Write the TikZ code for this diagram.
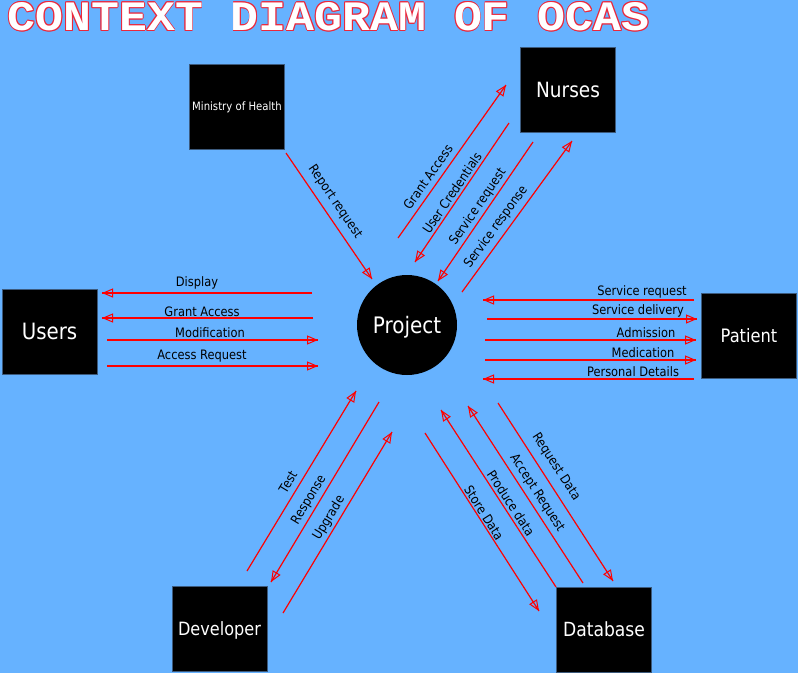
\documentclass[tikz,border=0pt]{standalone}
\usepackage{fontspec}
\setmainfont{DejaVu Sans}[FakeStretch=0.88]
\newfontfamily\titlefont{Liberation Mono}
\usetikzlibrary{arrows.meta,decorations.markings}
\definecolor{bgblue}{HTML}{66B2FF}
\definecolor{boxedge}{RGB}{60,90,125}
\definecolor{outl}{RGB}{235,40,60}
\newcommand\outlinedtitle[1]{\leavevmode
  \rlap{\color{outl}\kern0.8pt #1}\rlap{\color{outl}\kern-0.8pt #1}%
  \rlap{\color{outl}\raisebox{0.8pt}{#1}}\rlap{\color{outl}\raisebox{-0.8pt}{#1}}%
  \rlap{\color{outl}\raisebox{0.6pt}{\kern0.6pt #1}}\rlap{\color{outl}\raisebox{-0.6pt}{\kern0.6pt #1}}%
  \rlap{\color{outl}\raisebox{0.6pt}{\kern-0.6pt #1}}\rlap{\color{outl}\raisebox{-0.6pt}{\kern-0.6pt #1}}%
  {\color{white}#1}}
\tikzset{
  entity/.style={fill=black, draw=boxedge, line width=0.6pt, minimum width=95pt,
    minimum height=85pt, inner sep=0pt, text=white, text depth=0pt},
  flow/.style={draw=red, line width=1.2pt, postaction={decorate},
    decoration={markings, mark=at position 1 with
      {\arrow{Triangle[open,length=11pt,width=9pt,line width=1pt]}}}},
  lbl/.style={inner sep=0pt, text=black, font=\fontsize{13}{15}\selectfont},
}
\begin{document}
\begin{tikzpicture}[x=1pt,y=-1pt]
\path[use as bounding box, fill=bgblue] (0,0) rectangle (798,673);

% title
\node[anchor=base west, inner sep=0pt, font=\titlefont\bfseries\fontsize{46.5}{50}\selectfont]
  (title) at (7.5,30.5) {\scalebox{1}[0.9]{\outlinedtitle{CONTEXT DIAGRAM OF OCAS}}};

% entities
\node[entity, text height=8.4pt, font=\fontsize{11.5}{13}\selectfont] (moh) at (237,106.5) {Ministry of Health};
\node[entity, text height=15.3pt, font=\fontsize{21}{25}\selectfont] (nurses) at (568,89.5) {Nurses};
\node[entity, text height=16.4pt, font=\fontsize{22.5}{26}\selectfont] (users) at (49.5,331.5) {Users};
\node[entity, text height=13.5pt, font=\fontsize{18.5}{22}\selectfont] (patient) at (749,335.5) {Patient};
\node[entity, text height=13.4pt, font=\fontsize{18.3}{22}\selectfont] (developer) at (219.5,629) {Developer};
\node[entity, text height=14.2pt, font=\fontsize{19.5}{23}\selectfont] (database) at (604,629.5) {Database};
\node[circle, fill=black, minimum size=100pt, inner sep=0pt, text=white, text height=16.6pt, text depth=0pt,
  font=\fontsize{22.7}{26}\selectfont] (project) at (407,325) {Project};

% Ministry of Health
\coordinate (mh1) at (286,153); \coordinate (mh2) at (372,279);
\draw[flow] (mh1) -- (mh2);
\node[lbl, rotate=-55.7] (lmh) at (335,202) {Report request};

% Nurses
\coordinate (ga1) at (398,238); \coordinate (ga2) at (506,85);
\coordinate (uc1) at (509,123); \coordinate (uc2) at (415,262);
\coordinate (sq1) at (533,142); \coordinate (sq2) at (438,281);
\coordinate (sr1) at (462,292); \coordinate (sr2) at (572,141);
\draw[flow] (ga1) -- (ga2);
\draw[flow] (uc1) -- (uc2);
\draw[flow] (sq1) -- (sq2);
\draw[flow] (sr1) -- (sr2);
\node[lbl, rotate=54.8] (lga) at (428,177) {Grant Access};
\node[lbl, rotate=55.9] (luc) at (452,193) {User Credentials};
\node[lbl, rotate=55.6] (lsq) at (478,207) {Service request};
\node[lbl, rotate=53.9] (lsr) at (496,227) {Service response};

% Users
\coordinate (di1) at (312,293); \coordinate (di2) at (102,293);
\coordinate (gu1) at (313,318); \coordinate (gu2) at (102,318);
\coordinate (mo1) at (107,340); \coordinate (mo2) at (318,340);
\coordinate (ac1) at (107,366); \coordinate (ac2) at (318,366);
\draw[flow] (di1) -- (di2);
\draw[flow] (gu1) -- (gu2);
\draw[flow] (mo1) -- (mo2);
\draw[flow] (ac1) -- (ac2);
\node[lbl] (ldi) at (197,283) {Display};
\node[lbl] (lgu) at (202,312) {Grant Access};
\node[lbl] (lmo) at (210,333) {Modification};
\node[lbl] (lac) at (202,356) {Access Request};

% Patient
\coordinate (pq1) at (694,300); \coordinate (pq2) at (483,300);
\coordinate (pv1) at (487,319); \coordinate (pv2) at (697,319);
\coordinate (pa1) at (485,340); \coordinate (pa2) at (696,340);
\coordinate (pm1) at (485,360); \coordinate (pm2) at (696,360);
\coordinate (pp1) at (694,379); \coordinate (pp2) at (483,379);
\draw[flow] (pq1) -- (pq2);
\draw[flow] (pv1) -- (pv2);
\draw[flow] (pa1) -- (pa2);
\draw[flow] (pm1) -- (pm2);
\draw[flow] (pp1) -- (pp2);
\node[lbl] (lpq) at (642,292) {Service request};
\node[lbl] (lpv) at (638,311) {Service delivery};
\node[lbl] (lpa) at (646,333) {Admission};
\node[lbl] (lpm) at (643,353) {Medication};
\node[lbl] (lpp) at (633,372) {Personal Details};

% Developer
\coordinate (te1) at (247,571); \coordinate (te2) at (356,391);
\coordinate (re1) at (379,402); \coordinate (re2) at (271,582);
\coordinate (up1) at (283,613); \coordinate (up2) at (392,432);
\draw[flow] (te1) -- (te2);
\draw[flow] (re1) -- (re2);
\draw[flow] (up1) -- (up2);
\node[lbl, rotate=58.8] (lte) at (288,482) {Test};
\node[lbl, rotate=59.0] (lre) at (309,500) {Response};
\node[lbl, rotate=58.9] (lup) at (329,518) {Upgrade};

% Database
\coordinate (rd1) at (498,403); \coordinate (rd2) at (613,581);
\coordinate (ar1) at (583,583); \coordinate (ar2) at (468,406);
\coordinate (pd1) at (556,587); \coordinate (pd2) at (441,410);
\coordinate (sd1) at (425,433); \coordinate (sd2) at (539,611);
\draw[flow] (rd1) -- (rd2);
\draw[flow] (ar1) -- (ar2);
\draw[flow] (pd1) -- (pd2);
\draw[flow] (sd1) -- (sd2);
\node[lbl, rotate=-57.1] (lrd) at (556,467) {Request Data};
\node[lbl, rotate=-57.0] (lar) at (537,493) {Accept Request};
\node[lbl, rotate=-57.0] (lpd) at (511,503) {Produce data};
\node[lbl, rotate=-57.4] (lsd) at (484,513) {Store Data};
\end{tikzpicture}
\end{document}
